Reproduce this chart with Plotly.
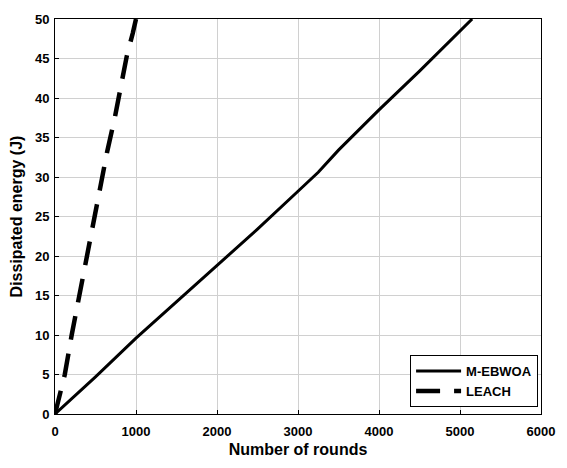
import plotly.graph_objects as go

# M-EBWOA: dissipated energy vs number of rounds
mebwoa_rounds = [0, 500, 1000, 1500, 2000, 2500, 3000, 3250, 3500, 4000, 4500, 5000, 5150]
mebwoa_energy = [0, 4.7, 9.6, 14.2, 18.7, 23.4, 28.2, 30.6, 33.4, 38.5, 43.4, 48.4, 50.0]

# LEACH: dissipated energy vs number of rounds
leach_rounds = [0, 50, 121, 206, 291, 376, 473, 558, 644, 740, 886, 960, 1000]
leach_energy = [0, 2.0, 5.0, 10.0, 14.6, 19.1, 24.1, 28.7, 33.2, 37.6, 45.3, 48.2, 50.0]

x_ticks = [0, 1000, 2000, 3000, 4000, 5000, 6000]
y_ticks = [0, 5, 10, 15, 20, 25, 30, 35, 40, 45, 50]

FONT = "Liberation Sans, Arial, Helvetica, sans-serif"

fig = go.Figure()
fig.add_trace(go.Scatter(
    x=mebwoa_rounds, y=mebwoa_energy, mode="lines", name="M-EBWOA",
    line=dict(color="black", width=3),
))
fig.add_trace(go.Scatter(
    x=leach_rounds, y=leach_energy, mode="lines", name="LEACH",
    line=dict(color="black", width=4.5, dash="24px,14px"),
))

axis_common = dict(
    showgrid=True, gridcolor="#d0d0d0", gridwidth=1,
    showline=True, linecolor="black", linewidth=1, mirror=True,
    ticks="inside", ticklen=4, tickcolor="black",
    tickfont=dict(family=FONT, size=13, color="black", weight="bold"),
    zeroline=False,
)

fig.update_layout(
    width=567, height=468,
    margin=dict(l=55, r=18, t=13, b=52),
    paper_bgcolor="white", plot_bgcolor="white",
    xaxis=dict(range=[0, 6000], tickvals=x_ticks, ticklabelstandoff=5,
               title=dict(text="Number of rounds", standoff=6,
                          font=dict(family=FONT, size=16, color="black", weight="bold")),
               **axis_common),
    yaxis=dict(range=[0, 50], tickvals=y_ticks, ticklabelstandoff=2,
               title=dict(text="Dissipated energy (J)", standoff=8,
                          font=dict(family=FONT, size=16, color="black", weight="bold")),
               **axis_common),
    legend=dict(x=0.994, y=0.149, xanchor="right", yanchor="top",
                bgcolor="white", bordercolor="black", borderwidth=1,
                font=dict(family=FONT, size=13, color="black", weight="bold"),
                tracegroupgap=0, itemwidth=45),
    showlegend=True,
)

fig.write_html("out.html")
